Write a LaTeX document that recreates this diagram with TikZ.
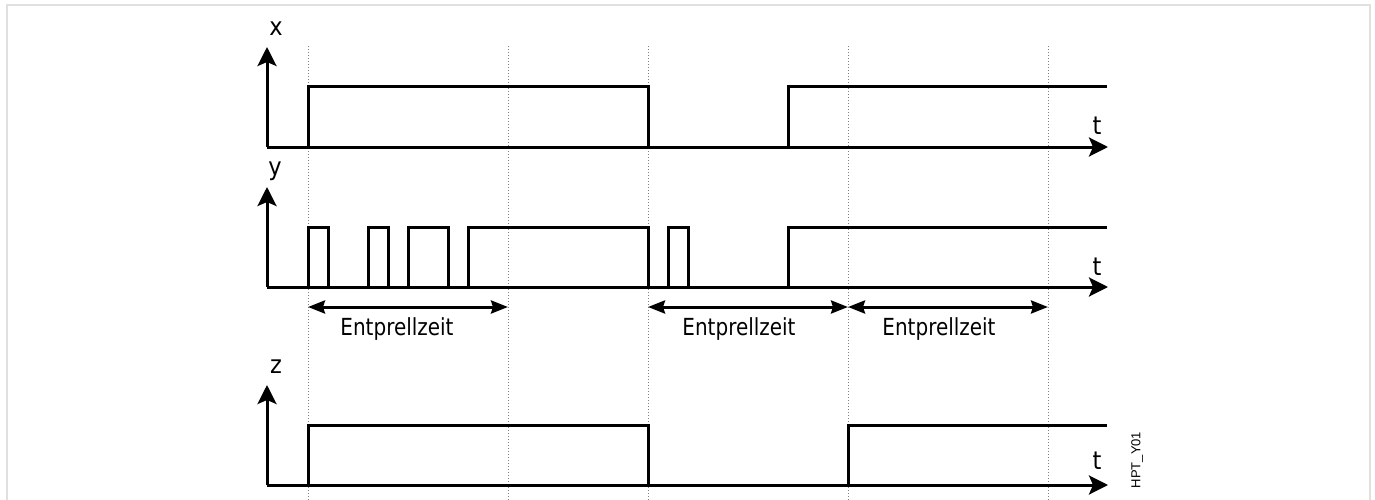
\documentclass[tikz,border=0pt]{standalone}
\usepackage{fontspec}
\setmainfont{DejaVu Sans}[FakeStretch=0.9]
\newfontfamily\spanfont{DejaVu Sans}[FakeStretch=0.85]
\newfontfamily\tagfont{Liberation Sans}
\usetikzlibrary{arrows.meta}
\tikzset{
  sig/.style={line width=3pt, line join=miter},
  axis/.style={line width=3pt, -{Stealth[length=19pt,width=19pt,inset=4pt]}},
  span/.style={line width=3pt, {Stealth[length=17pt,width=13pt,inset=2pt]}-{Stealth[length=17pt,width=13pt,inset=2pt]}},
  guide/.style={gray, line width=1pt, dash pattern=on 1pt off 2pt},
  lbl/.style={font=\spanfont\fontsize{23.5}{27}\selectfont, anchor=base, inner sep=0pt},
  axl/.style={font=\fontsize{25}{28}\selectfont, anchor=base, inner sep=0pt},
  frame/.style={draw=black!12, line width=2pt}
}
\begin{document}
\begin{tikzpicture}[x=1pt,y=-1pt]
\useasboundingbox (0,0) rectangle (1375,500);
\draw[frame] (7,520) -- (7,5) -- (1370,5) -- (1370,520);
% guides
\foreach \gx/\gn in {308/g1,508/g2,648/g3,848/g4,1048/g5}{
  \coordinate (\gn top) at (\gx,46);
  \coordinate (\gn bot) at (\gx,500);
  \draw[guide] (\gn top) -- (\gn bot);
}
% ---- x panel
\coordinate (xo) at (267,147);
\coordinate (xtop) at (267,47);
\coordinate (xend) at (1108,147);
\draw[axis] (xo) -- (xtop);
\draw[axis] (xo) -- (xend);
\node[axl] (xl) at (276,36) {x};
\node[axl] (xt) at (1097,135) {t};
\draw[sig] (308,147) -- (308,87) -- (648,87) -- (648,147);
\draw[sig] (788,147) -- (788,87) -- (1107,87);
% ---- y panel
\coordinate (yo) at (267,287);
\coordinate (ytop) at (267,187);
\coordinate (yend) at (1108,287);
\draw[axis] (yo) -- (ytop);
\draw[axis] (yo) -- (yend);
\node[axl] (yl) at (275,175) {y};
\node[axl] (yt) at (1097,275) {t};
\draw[sig] (308,287) -- (308,227) -- (328,227) -- (328,287);
\draw[sig] (368,287) -- (368,227) -- (388,227) -- (388,287);
\draw[sig] (408,287) -- (408,227) -- (448,227) -- (448,287);
\draw[sig] (468,287) -- (468,227) -- (648,227) -- (648,287);
\draw[sig] (668,287) -- (668,227) -- (688,227) -- (688,287);
\draw[sig] (788,287) -- (788,227) -- (1107,227);
% spans
\coordinate (s1a) at (308,307); \coordinate (s1b) at (508,307);
\coordinate (s2a) at (648,307); \coordinate (s2b) at (848,307);
\coordinate (s3a) at (848,307); \coordinate (s3b) at (1048,307);
\draw[span] (s1a) -- (s1b);
\draw[span] (s2a) -- (s2b);
\draw[span] (s3a) -- (s3b);
\node[lbl] (e1) at (397,335) {Entprellzeit};
\node[lbl] (e2) at (739,335) {Entprellzeit};
\node[lbl] (e3) at (939,335) {Entprellzeit};
% ---- z panel
\coordinate (zo) at (267,485);
\coordinate (ztop) at (267,385);
\coordinate (zend) at (1108,485);
\draw[axis] (zo) -- (ztop);
\draw[axis] (zo) -- (zend);
\node[axl] (zl) at (276,373) {z};
\node[axl] (zt) at (1097,469) {t};
\draw[sig] (308,485) -- (308,425) -- (648,425) -- (648,485);
\draw[sig] (848,485) -- (848,425) -- (1107,425);
% tag
\node[font=\tagfont\fontsize{13}{15}\selectfont, rotate=90, inner sep=0pt] (tag) at (1137,460) {HPT\_Y01};
\end{tikzpicture}
\end{document}
